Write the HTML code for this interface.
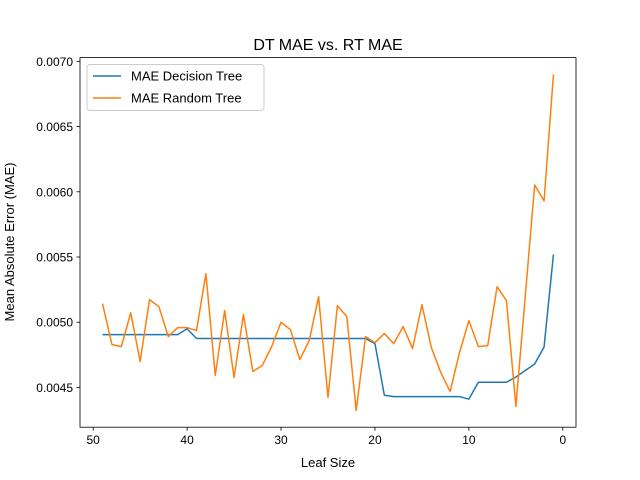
<!DOCTYPE html>
<html><head><meta charset="utf-8"><style>
body{margin:0;background:#fff}
svg{font-family:"Liberation Sans","DejaVu Sans",sans-serif;display:block}
</style></head><body>
<svg id="chart" width="640" height="480">
<rect width="640" height="480" fill="#fff"/>
<text x="328" y="50" text-anchor="middle" font-size="16">DT MAE vs. RT MAE</text>
<g id="plot"></g>
<text x="328" y="467" text-anchor="middle" font-size="13">Leaf Size</text>
<text transform="translate(14,242) rotate(-90)" text-anchor="middle" font-size="13">Mean Absolute Error (MAE)</text>
</svg>
<script>
const leafSizes=[49,48,47,46,45,44,43,42,41,40,39,38,37,36,35,34,33,32,31,30,29,28,27,26,25,24,23,22,21,20,19,18,17,16,15,14,13,12,11,10,9,8,7,6,5,4,3,2,1];
const dtMae=[0.004905,0.004905,0.004905,0.004905,0.004905,0.004905,0.004905,0.004905,0.004905,0.00495,0.004875,0.004875,0.004875,0.004875,0.004875,0.004875,0.004875,0.004875,0.004875,0.004875,0.004875,0.004875,0.004875,0.004875,0.004875,0.004875,0.004875,0.004875,0.004875,0.004836,0.00444,0.00443,0.00443,0.00443,0.00443,0.00443,0.00443,0.00443,0.00443,0.00441,0.00454,0.00454,0.00454,0.00454,0.00458,0.00463,0.00468,0.00481,0.00552];
const rtMae=[0.005142,0.004829,0.004813,0.005073,0.004699,0.005173,0.005119,0.00489,0.004959,0.004959,0.004936,0.005372,0.004592,0.005089,0.004576,0.005058,0.004622,0.004668,0.004813,0.005,0.004943,0.004714,0.004859,0.005196,0.004424,0.005127,0.005043,0.004324,0.00489,0.004844,0.004913,0.004836,0.004966,0.004798,0.005135,0.004806,0.004615,0.004469,0.004768,0.005012,0.004813,0.004821,0.005272,0.005165,0.004355,0.0052,0.006052,0.00593,0.0069];
const xTicks=[50,40,30,20,10,0];
const yTicks=[0.0045,0.0050,0.0055,0.0060,0.0065,0.0070];
const yTickLabels=["0.0045","0.0050","0.0055","0.0060","0.0065","0.0070"];

const NS="http://www.w3.org/2000/svg";
const L=80,R=576,T=57.6,B=427.2;
const xmin=Math.min(...leafSizes),xmax=Math.max(...leafSizes);
const xpad=(xmax-xmin)*0.05;
const all=dtMae.concat(rtMae);
const ymin=Math.min(...all),ymax=Math.max(...all),ypad=(ymax-ymin)*0.05;
const X=v=>L+(xmax+xpad-v)/((xmax-xmin)+2*xpad)*(R-L);
const Y=v=>B-(v-(ymin-ypad))/((ymax-ymin)+2*ypad)*(B-T);
const g=document.getElementById('plot');
function mk(tag,attrs){const e=document.createElementNS(NS,tag);for(const k in attrs)e.setAttribute(k,attrs[k]);g.appendChild(e);return e;}

xTicks.forEach(t=>{
  const x=X(t);
  const l=mk('line',{x1:x,x2:x,y1:B,y2:B+3.5,stroke:'#000','stroke-width':0.8});
  
  
  const tx=mk('text',{x:x,y:B+17,'text-anchor':'middle','font-size':'12'});
  tx.textContent=t;
  
  
});
yTicks.forEach((t,i)=>{
  const y=Y(t);
  const l=mk('line',{x1:L-3.5,x2:L,y1:y,y2:y,stroke:'#000','stroke-width':0.8});
  
  
  const tx=mk('text',{x:L-7,y:y+4.5,'text-anchor':'end','font-size':'12'});
  tx.textContent=yTickLabels[i];
  
  
});
function line(vals,color,name){
  const p=mk('polyline',{points:leafSizes.map((s,i)=>X(s)+','+Y(vals[i])).join(' '),fill:'none',stroke:color,'stroke-width':1.5,'stroke-linejoin':'round'});
  
  
}
line(dtMae,'#1f77b4','dt-mae-line');
line(rtMae,'#ff7f0e','rt-mae-line');
const fr=mk('rect',{x:L,y:T,width:R-L,height:B-T,fill:'none',stroke:'#000','stroke-width':0.8});


const lg=mk('rect',{x:87,y:64.5,width:177,height:46,fill:'#fff','fill-opacity':0.8,stroke:'#ccc',rx:3});


[['MAE Decision Tree','#1f77b4',76],['MAE Random Tree','#ff7f0e',98]].forEach(([lab,c,y])=>{
  const l=mk('line',{x1:93,x2:121,y1:y,y2:y,stroke:c,'stroke-width':1.5});
  
  
  const t=mk('text',{x:131,y:y+4.5,'font-size':'13'});
  t.textContent=lab;
  
  
});
</script>
</body></html>
